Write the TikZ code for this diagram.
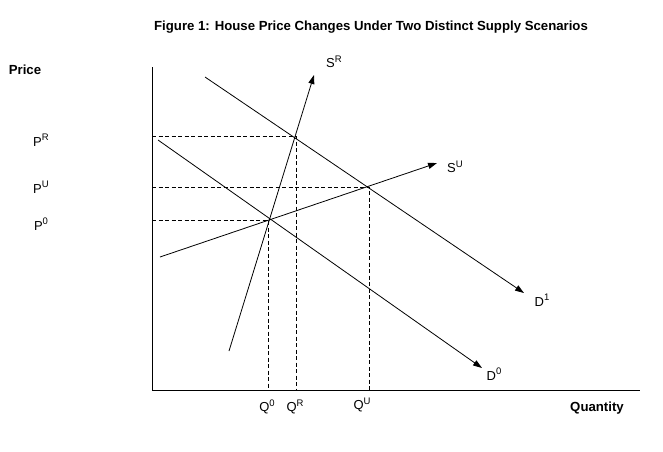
\documentclass[tikz,border=0pt]{standalone}
\usepackage{fontspec}
\setmainfont{Liberation Sans}
\usetikzlibrary{arrows.meta}
\newcommand{\sups}[1]{\raisebox{0.42em}{\fontsize{9.5}{10}\selectfont #1}}
\begin{document}
\begin{tikzpicture}[x=1pt,y=-1pt,
  curve/.style={line width=0.8pt,-{Triangle[length=9pt,width=6pt]}},
  axis/.style={line width=0.9pt},
  guide/.style={line width=0.5pt,dash pattern=on 4pt off 2.5pt},
  lbl/.style={inner sep=0pt,font=\fontsize{13}{15}\selectfont},
  bold/.style={inner sep=0pt,font=\bfseries\fontsize{13.2}{15}\selectfont}]
\useasboundingbox (0,0) rectangle (663,451);
% axes
\coordinate (O) at (152,390);
\coordinate (ytop) at (152,67);
\coordinate (xend) at (640,390);
\draw[axis] (ytop) -- (O) -- (xend);
% curve ends
\coordinate (sr0) at (229,351); \coordinate (sr1) at (314,75);
\coordinate (su0) at (160,257); \coordinate (su1) at (437,163);
\coordinate (d10) at (205,77);  \coordinate (d11) at (524,293);
\coordinate (d00) at (158,140); \coordinate (d01) at (482,368);
% intersections
\coordinate (eR) at (296,136); \coordinate (eU) at (369,187); \coordinate (e0) at (268,220);
\coordinate (aR) at (152,136); \coordinate (aU) at (152,187); \coordinate (a0) at (152,220);
\coordinate (bR) at (296,390); \coordinate (bU) at (369,390); \coordinate (b0) at (268,390);
% guides
\draw[guide] (aR) -- (eR) -- (bR);
\draw[guide] (aU) -- (eU) -- (bU);
\draw[guide] (a0) -- (e0) -- (b0);
% curves
\draw[curve] (sr0) -- (sr1);
\draw[curve] (su0) -- (su1);
\draw[curve] (d10) -- (d11);
\draw[curve] (d00) -- (d01);
% labels
\node[bold] (title) at (371,27) {Figure 1: House Price Changes Under Two Distinct Supply Scenarios};
\node[bold] (price) at (25,70) {Price};
\node[bold] (qty) at (597,408) {Quantity};
\node[lbl] (pR) at (41,140) {P\sups{R}};
\node[lbl] (pU) at (41,187) {P\sups{U}};
\node[lbl] (p0) at (41,224) {P\sups{0}};
\node[lbl] (q0) at (267,407) {Q\sups{0}};
\node[lbl] (qR) at (295,407) {Q\sups{R}};
\node[lbl] (qU) at (362,405) {Q\sups{U}};
\node[lbl] (sR) at (334,62) {S\sups{R}};
\node[lbl] (sU) at (455,167) {S\sups{U}};
\node[lbl] (D1) at (542,300) {D\sups{1}};
\node[lbl] (D0) at (494,374) {D\sups{0}};
\end{tikzpicture}
\end{document}
